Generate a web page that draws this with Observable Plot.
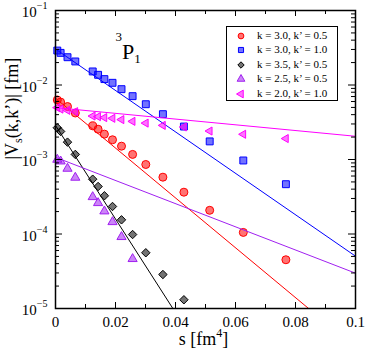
<!DOCTYPE html>
<html><head><meta charset="utf-8">
<script src="https://cdn.jsdelivr.net/npm/d3@7"></script>
<script src="https://cdn.jsdelivr.net/npm/@observablehq/plot@0.6"></script>
<style>
body{margin:0;background:#fff}
#wrap{position:relative;width:365px;height:351px;font-family:"Liberation Serif","Times New Roman",serif;background:#fff}
#wrap svg text{font-family:"Liberation Serif","Times New Roman",serif;font-variant:normal}
#legend{position:absolute;left:226px;top:26px;width:112px;height:75px;border:1px solid #000;background:#fff;box-sizing:border-box}
.row{position:absolute;left:0;height:14px;font-size:11px;line-height:14px;white-space:nowrap}
.row svg{position:absolute;left:8px;top:2px}
.row span{position:absolute;left:30px;top:0}
</style></head><body><div id="wrap"></div><script>
// ---- data ----
const s = [0.0006, 0.0017, 0.0040, 0.0066, 0.0124, 0.0142, 0.0163, 0.0190, 0.0220, 0.0257, 0.0301, 0.0358, 0.0428, 0.0514, 0.0626, 0.0768];
const vRed = [0.0063, 0.0059, 0.00514, 0.00421, 0.00283, 0.00255, 0.00219, 0.00184, 0.00151, 0.00117, 0.000857, 0.000579, 0.000364, 0.000208, 0.000105, 0.0000451];
const vBlue = [0.0290, 0.0270, 0.0236, 0.0207, 0.0152, 0.0137, 0.0120, 0.0107, 0.00879, 0.00708, 0.00552, 0.00406, 0.00277, 0.00175, 0.00097, 0.000466];
const vBlack = [0.00267, 0.00238, 0.00171, 0.00117, 0.000544, 0.000434, 0.000326, 0.000234, 0.000155, 0.0000984, 0.000056, 0.0000286, 0.0000131, null, null, null];
const vPurple = [0.000997, 0.000946, 0.000755, 0.000572, 0.000314, 0.000261, 0.000202, 0.000145, 0.0000914, 0.0000463, null, null, null, null, null, null];
const vMagenta = [0.00497, 0.00475, 0.00457, 0.00439, 0.00383, 0.00376, 0.00365, 0.00357, 0.00343, 0.00325, 0.00308, 0.00287, 0.00273, 0.00241, 0.00218, 0.00191];
const fitS = [0, 0.1];
const fitRed = [0.00665, 3.0e-6];
const fitBlue = [0.0304, 5.04e-5];
const fitBlack = [0.00287, 1.5e-9];
const fitPurple = [0.00107, 2.98e-5];
const fitMagenta = [0.00497, 0.00205];
const seriesNames = ["k = 3.0, k\u2019 = 0.5", "k = 3.0, k\u2019 = 1.0", "k = 3.5, k\u2019 = 0.5", "k = 2.5, k\u2019 = 0.5", "k = 2.0, k\u2019 = 1.0"];
const xMajor = [0, 0.02, 0.04, 0.06, 0.08, 0.1];
const xMinor = [0.01, 0.03, 0.05, 0.07, 0.09];
const yMajor = [1e-5, 1e-4, 1e-3, 1e-2, 1e-1];
const yMinor = yMajor.slice(0, 4).flatMap(p => [2,3,4,5,6,7,8,9].map(m => m * p));

// ---- styles ----
const FONT = "'Liberation Serif','Times New Roman',serif";
const colors = ["#ff0000", "#0000ff", "#000000", "#a020f0", "#ff00ff"];
const triangleLeft = {
  draw(ctx, size) {
    const y = Math.sqrt(size / (Math.sqrt(3) * 3));
    ctx.moveTo(-2 * y, 0);
    ctx.lineTo(y, -Math.sqrt(3) * y);
    ctx.lineTo(y, Math.sqrt(3) * y);
    ctx.closePath();
  }
};
const symbols = ["circle", "square", "diamond2", "triangle", triangleLeft];
const d3Symbols = [d3.symbolCircle, d3.symbolSquare, d3.symbolDiamond2, d3.symbolTriangle, triangleLeft];
const radii = [4, 3.9, 3.8, 3.4, 3.0];
const series = [vRed, vBlue, vBlack, vPurple, vMagenta];
const fits = [fitRed, fitBlue, fitBlack, fitPurple, fitMagenta];

const pts = vals => s.map((x, i) => ({s: x, v: vals[i]})).filter(d => d.v != null);
const fitPts = f => fitS.map((x, i) => ({s: x, v: f[i]}));

const FH = 298, FW = 300;
const marks = [];
series.forEach((vals, k) => {
  marks.push(Plot.dot(pts(vals), {x: "s", y: "v", symbol: symbols[k], r: radii[k],
    fill: colors[k], fillOpacity: 0.55, stroke: colors[k], strokeWidth: 1}));
  marks.push(Plot.line(fitPts(fits[k]), {x: "s", y: "v", stroke: colors[k], strokeWidth: 1, clip: true}));
});
// inward ticks
marks.push(
  Plot.tickX(xMajor, {x: d => d, insetTop: FH - 6, stroke: "black"}),
  Plot.tickX(xMajor, {x: d => d, insetBottom: FH - 6, stroke: "black"}),
  Plot.tickX(xMinor, {x: d => d, insetTop: FH - 4, stroke: "black"}),
  Plot.tickX(xMinor, {x: d => d, insetBottom: FH - 4, stroke: "black"}),
  Plot.tickY(yMajor, {y: d => d, insetRight: FW - 7, stroke: "black"}),
  Plot.tickY(yMajor, {y: d => d, insetLeft: FW - 7, stroke: "black"}),
  Plot.tickY(yMinor, {y: d => d, insetRight: FW - 4, stroke: "black"}),
  Plot.tickY(yMinor, {y: d => d, insetLeft: FW - 4, stroke: "black"}),
  Plot.axisX(xMajor, {tickSize: 0, tickPadding: 8, label: null, fontSize: 15, fontFamily: FONT, fontVariant: "normal",
    tickFormat: d => String(+d.toFixed(2))}),
  Plot.axisY(yMajor, {tickSize: 0, tickPadding: 8, label: null, fontSize: 15, fontFamily: FONT, fontVariant: "normal", dy: 2,
    tickFormat: d => "10^" + Math.round(Math.log10(d))}),
  Plot.frame({stroke: "black", strokeWidth: 1.5}),
  Plot.text(["@TITLE"], {frameAnchor: "top-left", dx: 60, dy: 48, textAnchor: "start", lineAnchor: "bottom", fontSize: 22, fontFamily: FONT}),
  Plot.text(["@XLABEL"], {frameAnchor: "bottom", dx: -2, dy: 36, lineAnchor: "bottom", fontSize: 18, fontFamily: FONT}),
  Plot.text(["@YLABEL"], {frameAnchor: "left", dx: -38, rotate: -90, lineAnchor: "bottom", fontSize: 18, fontFamily: FONT})
);

const chart = Plot.plot({
  width: 365, height: 351,
  marginLeft: 55, marginRight: 10, marginTop: 10, marginBottom: 43,
  style: {fontFamily: FONT, fontSize: "15px", background: "white", overflow: "visible", color: "black"},
  x: {domain: [0, 0.1]},
  y: {type: "log", domain: [1e-5, 1e-1]},
  marks
});

// rich text (superscripts / subscripts)
d3.select(chart).selectAll("text").each(function() {
  const t = this.textContent;
  const sel = d3.select(this);
  const m = t.match(/^10\^(-?\d+)$/);
  if (m) {
    this.textContent = "";
    sel.append("tspan").text("10");
    sel.append("tspan").attr("dy", -8).attr("font-size", 10).text(m[1].replace("-", "\u2212"));
  } else if (t === "@TITLE") {
    this.textContent = "";
    sel.append("tspan").attr("dy", -18).attr("font-size", 13).text("3");
    sel.append("tspan").attr("dy", 18).text("P");
    sel.append("tspan").attr("dy", 4).attr("font-size", 13).text("1");
  } else if (t === "@XLABEL") {
    this.textContent = "";
    sel.append("tspan").text("s [fm");
    sel.append("tspan").attr("dy", -8).attr("font-size", 12).text("4");
    sel.append("tspan").attr("dy", 8).text("]");
  } else if (t === "@YLABEL") {
    this.textContent = "";
    sel.append("tspan").text("|V");
    sel.append("tspan").attr("dy", 4).attr("font-size", 12).text("s");
    sel.append("tspan").attr("dy", -4).text("(k,k\u2019)| [fm]");
  }
});

const wrap = document.getElementById("wrap");
wrap.appendChild(chart);

// legend
const legend = document.createElement("div");
legend.id = "legend";
seriesNames.forEach((name, k) => {
  const row = document.createElement("div");
  row.className = "row";
  row.style.top = (1 + k * 14.4) + "px";
  row.style.width = "110px";
  const svg = d3.create("svg").attr("width", 12).attr("height", 12);
  svg.append("path").attr("transform", "translate(6,6)")
    .attr("d", d3.symbol(d3Symbols[k], 26)())
    .attr("fill", colors[k]).attr("fill-opacity", 0.55).attr("stroke", colors[k]);
  row.appendChild(svg.node());
  const sp = document.createElement("span");
  sp.textContent = name;
  row.appendChild(sp);
  legend.appendChild(row);
});
wrap.appendChild(legend);
</script></body></html>
